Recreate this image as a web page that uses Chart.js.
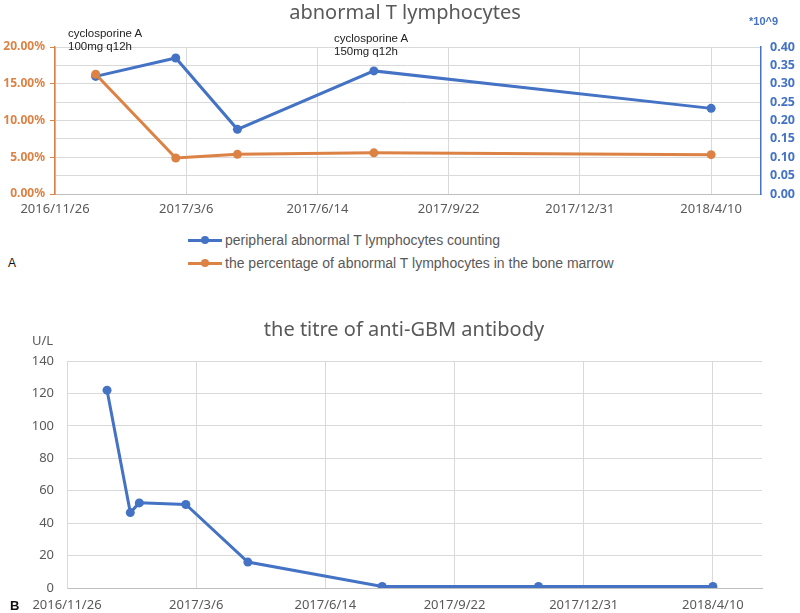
<!DOCTYPE html>
<html><head><meta charset="utf-8">
<script src="https://cdn.jsdelivr.net/npm/chart.js@4.4.0/dist/chart.umd.min.js"></script>
<style>
body{margin:0;width:800px;height:613px;background:#fff;position:relative;overflow:hidden;font-family:"Liberation Sans",Arial,sans-serif}
canvas{position:absolute;left:0}
.t{position:absolute;white-space:nowrap;line-height:1}
.title{font-family:"Noto Sans",sans-serif;font-size:20px;color:#595959;transform:translateX(-50%)}
.ann{font-size:11.5px;color:#222;line-height:12.5px}
.leg{font-family:"Liberation Sans",sans-serif;font-size:14px;color:#595959;display:flex;align-items:center}
.mk{position:relative;width:34px;height:3px;margin-right:3px}
.mk i{position:absolute;left:13px;top:-2.5px;width:8px;height:8px;border-radius:50%}
</style></head><body>
<canvas id="ca" width="800" height="222" style="top:0"></canvas>
<canvas id="cb" width="800" height="313" style="top:300px"></canvas>
<div class="t title" style="left:405px;top:2px">abnormal T lymphocytes</div>
<div class="t ann" style="left:68px;top:27px">cyclosporine A<br>100mg q12h</div>
<div class="t ann" style="left:334px;top:32px">cyclosporine A<br>150mg q12h</div>
<div class="t" style="left:749px;top:16px;font-size:11px;font-weight:bold;color:#4472C4">*10^9</div>
<div class="t leg" style="left:188px;top:233px"><span class="mk" style="background:#4472C4"><i style="background:#4472C4"></i></span>peripheral abnormal T lymphocytes counting</div>
<div class="t leg" style="left:188px;top:256px"><span class="mk" style="background:#DC8244"><i style="background:#DC8244"></i></span>the percentage of abnormal T lymphocytes in the bone marrow</div>
<div class="t" style="left:8px;top:257px;font-size:12px;color:#111">A</div>
<div class="t title" style="left:404px;top:319px">the titre of anti-GBM antibody</div>
<div class="t" style="left:32px;top:334px;font-family:'Noto Sans',sans-serif;font-size:13px;color:#595959">U/L</div>
<div class="t" style="left:10px;top:599px;font-size:13px;font-weight:bold;color:#111">B</div>
<script>
// ---- data ----
const xTickLabels = ['2016/11/26','2017/3/6','2017/6/14','2017/9/22','2017/12/31','2018/4/10'];
const lymphDates = ['2016/12/27','2017/2/26','2017/4/14','2017/7/27','2018/4/10'];
const peripheralCount = [0.32, 0.37, 0.176, 0.335, 0.233];      // *10^9
const marrowPercent = [16.3, 4.9, 5.4, 5.6, 5.35];               // %
const gbmDates = ['2016/12/27','2017/1/14','2017/1/21','2017/2/26','2017/4/15','2017/7/28','2017/11/26','2018/4/10'];
const gbmTitre = [122, 46.5, 52.5, 51.5, 16, 1, 1, 1];           // U/L
const pctTicks = [0, 5, 10, 15, 20];
const countTicks = [0, 0.05, 0.1, 0.15, 0.2, 0.25, 0.3, 0.35, 0.4];
const titreTicks = [0, 20, 40, 60, 80, 100, 120, 140];

const origin = Date.UTC(2016, 10, 26);
function toDay(s){const [y,m,d]=s.split('/').map(Number);return Math.round((Date.UTC(y,m-1,d)-origin)/86400000);}
const BLUE='#4472C4', ORANGE='#DC8244', GRID='#d9d9d9', TXT='#595959';
const XMAX = 538;

function xScale(pad){
  return {
    type:'linear', min:0, max:XMAX,
    afterBuildTicks:s=>{s.ticks=xTickLabels.map(l=>({value:toDay(l)}));},
    ticks:{callback:(v,i)=>xTickLabels[i], color:TXT, font:{family:'Noto Sans',size:13}, padding:pad, maxRotation:0, autoSkip:false},
    grid:{color:GRID, drawTicks:false},
    border:{color:'#bfbfbf', width:1}
  };
}
function setTicks(list){return s=>{s.ticks=list.map(v=>({value:v}));};}

Chart.defaults.animation=false;

new Chart(document.getElementById('ca'),{
  type:'line',
  data:{datasets:[
    {label:'the percentage of abnormal T lymphocytes in the bone marrow', yAxisID:'y',
     data:lymphDates.map((d,i)=>({x:toDay(d),y:marrowPercent[i]})),
     borderColor:ORANGE, backgroundColor:ORANGE, borderWidth:3, pointRadius:4.5, pointBorderWidth:0, tension:0},
    {label:'peripheral abnormal T lymphocytes counting', yAxisID:'y1',
     data:lymphDates.map((d,i)=>({x:toDay(d),y:peripheralCount[i]})),
     borderColor:BLUE, backgroundColor:BLUE, borderWidth:3, pointRadius:4.5, pointBorderWidth:0, tension:0}
  ]},
  options:{
    responsive:false, events:[],
    layout:{padding:{top:47,left:0,right:0,bottom:0}},
    plugins:{legend:{display:false},tooltip:{enabled:false}},
    scales:{
      x:Object.assign(xScale(7),{afterFit:s=>{s.height=28;}}),
      y:{position:'left', min:0, max:20, afterBuildTicks:setTicks(pctTicks),
         ticks:{callback:v=>v.toFixed(2)+'%', color:ORANGE, font:{family:'Noto Sans',size:12,weight:'bold'}, padding:5, autoSkip:false},
         grid:{drawOnChartArea:false, drawTicks:true, tickLength:5, color:ORANGE},
         border:{color:ORANGE, width:1.5},
         afterFit:s=>{s.width=55;}},
      y1:{position:'right', min:0, max:0.4, afterBuildTicks:setTicks(countTicks),
         ticks:{callback:v=>v.toFixed(2), color:BLUE, font:{family:'Noto Sans',size:12.5,weight:'bold'}, padding:9, autoSkip:false},
         grid:{color:GRID, drawTicks:false},
         border:{color:BLUE, width:1.5},
         afterFit:s=>{s.width=39;}}
    }
  }
});

new Chart(document.getElementById('cb'),{
  type:'line',
  data:{datasets:[
    {label:'anti-GBM antibody', data:gbmDates.map((d,i)=>({x:toDay(d),y:gbmTitre[i]})),
     borderColor:BLUE, backgroundColor:BLUE, borderWidth:3, pointRadius:4.5, pointBorderWidth:0, tension:0}
  ]},
  options:{
    responsive:false, events:[],
    layout:{padding:{top:61,left:0,right:38,bottom:0}},
    plugins:{legend:{display:false},tooltip:{enabled:false}},
    scales:{
      x:Object.assign(xScale(9),{afterFit:s=>{s.height=25;}}),
      y:{min:0, max:140, afterBuildTicks:setTicks(titreTicks),
         ticks:{color:TXT, font:{family:'Noto Sans',size:13}, padding:13, autoSkip:false},
         grid:{color:GRID, drawTicks:false},
         border:{color:GRID, width:1},
         afterFit:s=>{s.width=67;}}
    }
  }
});
</script>
</body></html>
